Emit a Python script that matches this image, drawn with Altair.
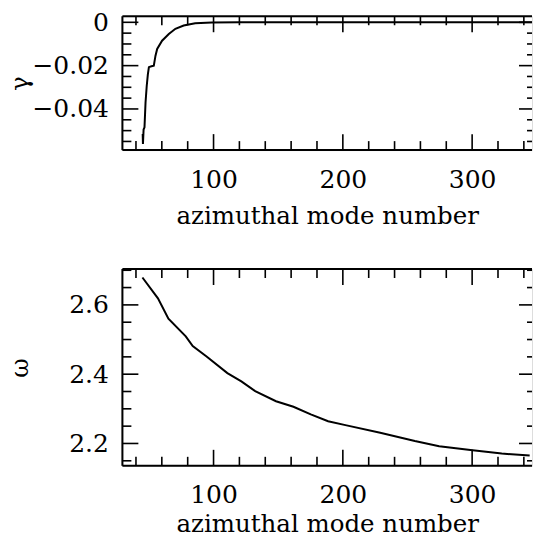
import altair as alt
import pandas as pd

# ---- data ----
m_gamma = [45.4, 45.2, 45.9, 46.6, 47.4, 48.3, 49.2, 50.0, 52.0, 53.8, 55.1, 56.4,
           60.2, 65.4, 70.5, 76.9, 85.8, 98.7, 120, 160, 200, 250, 300, 354.5]
gamma = [-0.0562, -0.0515, -0.0495, -0.0485, -0.0370, -0.0295, -0.0240, -0.0207,
         -0.0203, -0.0200, -0.0154, -0.0123, -0.0085, -0.0054, -0.0030, -0.0015,
         -0.0004, -0.0001, 0.0, 0.0, 0.0, 0.0, 0.0, 0.0]

m_omega = [45.0, 57.0, 65.1, 78.5, 83.9, 94.6, 110.7, 121.5, 132.2, 148.3, 161.8,
           175.2, 188.6, 202.0, 228.9, 255.7, 274.5, 298.7, 322.9, 344.5]
omega = [2.679, 2.619, 2.560, 2.509, 2.481, 2.451, 2.403, 2.379, 2.351, 2.322, 2.306,
         2.284, 2.264, 2.253, 2.231, 2.207, 2.192, 2.181, 2.171, 2.165]

x_major = [100, 200, 300]
x_minor = [40, 60, 80, 120, 140, 160, 180, 220, 240, 260, 280, 320, 340]
gamma_major = [0.0, -0.02, -0.04]
gamma_minor = [-0.005, -0.01, -0.015, -0.025, -0.03, -0.035, -0.045, -0.05, -0.055]
omega_major = [2.2, 2.4, 2.6]
omega_minor = [2.15, 2.25, 2.3, 2.35, 2.45, 2.5, 2.55, 2.65, 2.7]

X_DOMAIN = [29.5, 346.3]
G_DOMAIN = [-0.059, 0.0028]
O_DOMAIN = [2.1355, 2.7036]

W = 410
H1 = 134
H2 = 197
FONT = "DejaVu Serif"
MAJ = 16
MIN = 9
R_MAJ = 13     # right-edge ticks (frame itself lies just outside the picture)
R_MIN = 5
SW_TICK = 1.6
SW_FRAME = 2


def panel(mvals, yvals, ydomain, ymajor, yminor, ytitle, yfmt, h, xlabpad, xtitley):
    xs = alt.Scale(domain=X_DOMAIN, nice=False, zero=False)
    ys = alt.Scale(domain=ydomain, nice=False, zero=False)
    df = pd.DataFrame({"m": mvals, "y": yvals})
    xaxis = alt.Axis(values=x_major, format="d", ticks=False, domain=False,
                     grid=False, labelFont=FONT, labelFontSize=25, labelColor="black",
                     labelPadding=xlabpad, labelFlush=False, labelOverlap=False,
                     title="azimuthal mode number", titleFont=FONT, titleFontSize=24.5,
                     titleFontWeight="normal", titleColor="black",
                     titleY=xtitley, titleBaseline="alphabetic")
    yaxis = alt.Axis(values=ymajor, format=yfmt, ticks=False, domain=False,
                     grid=False, labelFont=FONT, labelFontSize=25, labelColor="black",
                     labelPadding=14, labelFlush=False, labelOverlap=False,
                     title=ytitle, titleFont=FONT, titleFontSize=24,
                     titleFontWeight="normal", titleColor="black", titleAngle=270,
                     titleX=-102, titleY=h / 2, titleAlign="center",
                     titleBaseline="middle")
    X = lambda f: alt.X(f, scale=xs, axis=xaxis)
    Y = lambda f: alt.Y(f, scale=ys, axis=yaxis)
    line = alt.Chart(df).mark_line(color="black", strokeWidth=2, clip=True).encode(
        x=X("m:Q"), y=Y("y:Q"))
    layers = [line]
    for vals, L in ((x_major, MAJ), (x_minor, MIN)):
        d = pd.DataFrame({"m": vals})
        base = alt.Chart(d).mark_rule(color="black", strokeWidth=SW_TICK)
        layers.append(base.encode(x=X("m:Q"), y=alt.value(h), y2=alt.value(h - L)))
        layers.append(base.encode(x=X("m:Q"), y=alt.value(0), y2=alt.value(L)))
    for vals, L, R in ((ymajor, MAJ, R_MAJ), (yminor, MIN, R_MIN)):
        d = pd.DataFrame({"y": vals})
        base = alt.Chart(d).mark_rule(color="black", strokeWidth=SW_TICK)
        layers.append(base.encode(y=Y("y:Q"), x=alt.value(0), x2=alt.value(L)))
        layers.append(base.encode(y=Y("y:Q"), x=alt.value(W - R), x2=alt.value(W)))
    one = pd.DataFrame({"k": [0]})
    fr = alt.Chart(one).mark_rule(color="black", strokeWidth=SW_FRAME)
    layers.append(fr.encode(x=alt.value(0), y=alt.value(0), y2=alt.value(h)))
    layers.append(fr.encode(x=alt.value(0), x2=alt.value(W), y=alt.value(0)))
    layers.append(fr.encode(x=alt.value(0), x2=alt.value(W), y=alt.value(h)))
    return alt.layer(*layers).properties(width=W, height=h)


top = panel(m_gamma, gamma, G_DOMAIN, gamma_major, gamma_minor, "γ", ".2~f", H1, 17, 73)
bottom = panel(m_omega, omega, O_DOMAIN, omega_major, omega_minor, "ω", ".1f", H2, 17, 66)

chart = alt.vconcat(top, bottom, spacing=119, bounds="flush").properties(
    padding={"left": -0.5, "top": 1, "right": 0, "bottom": -4}
).configure_view(stroke=None).configure(background="white")

chart.save("out.html", embed_options={"renderer": "svg", "actions": False})
